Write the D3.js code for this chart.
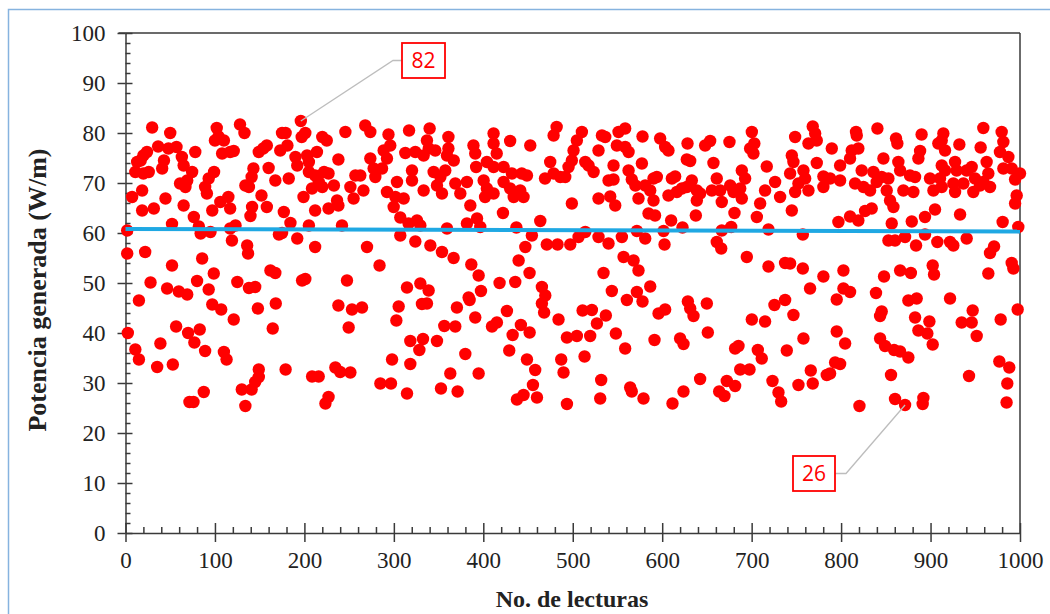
<!DOCTYPE html>
<html><head><meta charset="utf-8">
<script src="https://cdn.jsdelivr.net/npm/d3@7/dist/d3.min.js"></script>
<style>html,body{margin:0;padding:0;background:#fff;}svg{display:block;}</style>
</head><body>
<svg id="chart" width="1050" height="614"></svg>
<script>
// ---- data ----
const pointsX = [
29.8,50,102,128,133,100,104,110,196,175,179,201,197,220,225,36.5,24,20,17,48,57,63,65,78,108,117,121,149,154,158,173,181,190,192,203,205,214,238,13,11,20,26,43,41,74.5,61,67,69,99,93,89,91,143,141,134,138,160,167.5,182.5,205,212,216,208.5,220,222,227,233,7.4,18.6,44.7,65,31.7,18.6,76.4,106,115,97,117,141.5,139.7,152,158,177,184.4,199,212,227,236.5,238,52,82,84,95,123,117,205,242,1.9,1.9,22,52,85.7,98.7,119,136,137,171.5,175,192,212,162,167.5,197.4,201,28,46.5,59.6,69,80,93,125,138,145,
15,97,107,121,148,168,238,2.6,56.6,70,83,77,89,110,113,164.6,11,15,39,35.4,52.9,149,149,145,179,208.6,216,234.6,240,130,141,87.5,71.5,76,134,227,223.5,
245.8,268,273.7,294,317,340,361,411.5,430,482,478.6,288.6,296,292.3,273.7,277.4,286.8,279.3,312.8,324,337,339,346.3,333.3,361,367,359.4,389,391,392,411.5,415,404,411.5,422.7,432,443,448.8,452.5,474.8,478.6,469,486,257,262.5,251.4,255,266,320.3,320.3,333.3,344.5,352,357.5,348.2,353.8,303.5,292.3,301.7,311,299.8,368.7,374.3,381.7,385.5,400.4,404,411.5,402,422.7,430,434,441.3,445,422,463.7,307.2,316.5,325.9,329.6,307.2,324,340.8,353.8,366.8,359.4,381.7,393,396.6,437,454.3,447,439.5,451.7,471,483,270,284,386.6,394.8,418.2,435.7,247.6,314.7,329.6,338.9,383.6,397.4,465.5,469.3,
253.2,264.4,305.4,331.4,337,370.5,384.7,465.5,468,426.4,484.1,249.5,302.8,356.4,368.7,391,409.7,415.2,442,451.8,432.8,318.4,332.6,328.5,348.2,379.9,429,448.8,458,455.5,487.1,489.7,298,318.4,251.4,363.1,394.8,284.9,296.8,314.7,352.7,371.3,437.6,445,460,
510.2,504.6,500.9,499,495.3,491.6,532.6,536.3,528.8,551.2,558.6,549.3,558.6,562.4,578,597.7,603.3,607,628.3,627.5,631.3,648,653.6,657.3,675.2,700.2,698.3,703,702,517.7,523.3,514,545.6,540,545.6,577.3,562.4,566,570,581,590.3,594,586.6,590.3,584.7,592,610.8,614.5,607,616.4,622,627.5,633.1,638.7,642.4,638.7,661,655.5,664.8,666.6,676,679.7,689,692.7,687.2,689,715,709.5,705.8,716.9,726.2,731.8,528.8,499,541.9,547.5,573.5,610,622.7,637.6,680.8,677.1,666.6,718.8,514,506.5,497.2,528.8,540,554.9,571.7,581,601.5,602.6,661,666,694.6,718.8,737.4,556.8,568,573.5,534.4,543.7,571.7,586.6,
511,521.4,537,527,560.5,578,595.9,603.3,628.7,631.3,635,649.9,725.5,737.4,700.2,715,493.5,504.6,519.5,548.2,558.6,591.4,620,623.8,651,681.5,685.3,706.9,711.3,739.3,513.2,531.8,564.2,566,579.1,530.7,493.5,611.5,623.8,642.4,672.2,681.5,663.7,669.6,687.2,697.6,723.3,730,733,
768.3,771,772.8,763.5,748.6,789.6,816.7,817.5,819.3,811.9,840.6,861.4,862.9,890,888.3,886.4,914.3,912.5,908.7,916.2,932.2,959,956,979.5,981.4,977.6,987,744.9,746.7,743,752.3,748.6,759.8,763.5,757.9,772.8,780.2,780.2,787.7,798.9,798.9,810,815.6,823,825,832.4,836.1,839.8,847.3,845.4,852.9,851,854.7,858.5,856.6,864,866,877,882.7,869.6,880.8,899.4,903.2,910.6,912.5,916.2,912.5,927.4,929.2,925.5,927.4,936.7,940.4,946,949.7,947.8,962.7,964.6,959,966.5,955.3,981.4,990.7,1000,994.5,996.3,994.5,744.9,797,810,819.3,826.8,834.2,879,893.8,905,933,980.6,998.1,757.2,852.9,860.3,871.5,883.8,893.8,907.6,921.8,925.5,940.4,971,966.5,743,757.2,780.2,802.6,848,866,878,902.4,903.9,964.6,990.7,992.6,765.3,795.1,802.6,810,839,875.2,884.5,921.8,
746.7,845.4,843.6,882.7,898.7,947.1,934.8,946,978.4,997.4,757.9,795.1,804.5,843.6,849.1,859.2,865.9,875.2,886.4,896.4,902.4,951.6,793.3,798.9,766.1,784,787.7,752.3,768.3,855.8,943,976.9,988,985.8,860.3,871.5,820.5,892,891.2,985
];
const pointsY = [
81.1,80,81,81.7,80,78.5,79.3,78.5,82.4,80,80,80,79.2,79.2,78.5,77.3,76.2,75.5,74.5,76.9,77.2,75.2,73.5,76.2,75.9,76.2,76.4,76.2,76.9,77.5,76.5,77.5,75.2,73.5,75.5,74.2,76.2,74.7,74.2,72.2,71.9,72.2,74.5,72.9,72.2,69.9,69.2,70.5,72.2,70.9,69.2,67.9,72.9,71.2,69.5,69.2,73,70.5,70.9,72.2,71.5,70.2,68.9,69.2,72.2,71.9,69.5,67.2,68.5,66.9,65.5,64.9,64.5,63.2,66.2,67.2,64.5,64.9,65.2,63.4,67.5,65.2,64.2,62,67.2,64.5,64.9,66.5,65.5,61.8,61.3,59.9,60.2,61.5,60.9,61.5,61.5,60.5,55.9,56.2,53.5,54.9,51.9,58.5,57.5,55.9,59.7,60,58.9,57.2,52.5,52,50.5,50.8,50.1,48.9,48.3,47.7,50.4,48.7,50.2,49,49.2,
46.5,45.7,44.7,42.7,44.9,45.9,45.5,40,41.3,40,40.7,38.1,36.4,36.2,34.7,40.9,36.7,34.7,37.9,33.2,33.7,32.7,31.2,30.2,32.7,31.3,31.3,33.1,32.2,28.7,28.7,28.2,26.2,26.2,25.4,27.2,25.9,
80.2,81.5,80.2,79.7,80.5,80.9,79.2,79.9,78.4,81.2,79.5,76.5,77.5,74.9,74.9,72.9,72.9,71.2,76,76.2,78.5,76.9,76.5,75.5,76.9,74.5,75.5,77.5,75.9,73.2,77.9,75.9,74.2,73.2,73.2,71.9,71.9,71.5,77.5,74.2,71.9,70.9,71.2,71.5,71.5,69.2,66.9,68.5,72.5,70.5,68.5,72.2,71.2,72.5,69.5,67.9,70.2,68.2,67.2,66.9,65.2,69.9,67.9,70.2,65.5,70.5,68.9,67.9,67.2,70.2,68.9,67.2,68.5,67.2,64,62.4,63.1,61.9,62.5,61.5,59.5,58.3,57.5,56.2,55,60.9,61.9,62.9,61.2,61.1,59.5,57.2,54.5,52,57.7,57.7,57.2,53.5,53.7,51.5,50,50.2,50.5,49.1,49.9,48.5,47.1,48.4,49.2,47.5,
44.7,45.1,45.3,45.8,45.9,45.1,46.6,45.9,44.1,44.4,42.7,41.1,42.5,41.4,41.3,43.1,41.3,42.1,41.6,40.1,39.6,38.4,38.8,36.6,38.4,35.8,36.5,34.7,32.6,29.6,34.7,32.1,34.7,33.8,32.1,31.9,31.9,29.9,29.9,27.9,28.9,28.3,26.7,27.6,27.1,
80.2,78.5,76.5,74.5,73.2,71.2,79.5,79.2,76.5,80.2,80.9,77.5,77.2,76.2,79.3,78.9,77.2,76.5,77.9,74.7,74.4,77.5,78.4,74,78.2,80.2,76.9,77.9,75.9,73.5,72.2,74.2,73.5,70.5,70.7,73.9,72.5,70.7,69.5,69.5,70.9,71.2,68.5,66.5,63.9,63.5,70.9,71.3,67.5,68.2,68.9,69.2,70.5,68.5,67.9,66.5,70.9,68.5,68.5,66.2,69.5,68.2,72.5,70.9,68.9,66.9,68.5,65.9,63.2,73.3,70.2,67.2,66.9,65.9,67.3,65.5,66.9,62.5,61.1,63.5,64,61.2,60.5,60.7,60.2,59.2,57.7,59.2,57.9,59.2,60.4,58.9,60.4,57.7,58.2,56.9,55.2,53.3,54,55.2,54.5,52.5,52,48.4,48.2,49.3,
44.5,44.6,43.5,41.9,46.6,46.3,43.9,44.7,46.3,44.9,43.4,45.9,45.6,46.6,42.7,42.3,39.1,39.4,39.4,39.9,36.9,38.6,38.9,37.8,40.1,36.9,37.4,36.6,34.9,36.5,35.3,30.6,29.1,28.3,26.9,26.9,25.8,25.9,28.3,30.8,30.4,29.4,28.3,27.4,32.7,32.7,30.4,28.1,26.3,
81.3,79.9,78.5,77.9,79.2,76.9,80.2,79.5,76.9,76.5,80.9,78.9,77.9,79.7,76.4,74.9,79.9,78.5,77.9,76.5,77.7,81,77.1,80.2,78.2,76.2,75.2,75.5,74.2,71.9,69.9,68.2,70.9,68.5,72.5,74,71.3,69.2,70.9,70.5,73.5,74.9,69.9,72.5,69.2,68.5,72.2,70.2,74.9,71.2,70.9,68.5,66.5,65.2,61.9,74.2,72.5,71.5,71.2,68.5,68.2,70.9,68.5,70.9,73.5,72.5,69.2,74.2,72.5,69.9,68.2,69.9,72.5,73.2,70.9,68.2,74.2,71.9,70.2,69.2,69.5,72.9,72.9,71.9,70.7,67.5,65.9,64.5,62.2,63.3,62.5,64.4,64.9,62.3,63.2,64.7,63.7,62.2,61.2,59.7,58.5,58.5,59.2,57.5,59.7,58.2,58.2,57.5,58.9,57.3,56,53.9,52.9,51.3,52.5,51.3,52.5,52,53.5,51.7,51.9,54,52.9,48.9,46.7,48.9,48.2,48,46.5,46.9,46.9,
43.6,44.3,43.4,43.1,42.3,44.5,42.1,42.1,42.7,44.7,38.9,40.3,37.9,38.9,37.4,36.6,36.3,35.1,40.5,39.9,37.7,39.4,34.1,33.8,32.5,31.6,31.9,29.6,29.9,31.6,31.4,34.3,33.1,29.9,26.8,25.6,25.4,27,25.8,26.1
];
const trendX = [0, 1000];
const trendY = [60.8, 60.3];
const annLabels = ["82", "26"];
const annX = [196, 871.5];
const annY = [82.4, 25.6];
const xTicks = [0,100,200,300,400,500,600,700,800,900,1000];
const yTicks = [0,10,20,30,40,50,60,70,80,90,100];
const xTitle = "No. de lecturas";
const yTitle = "Potencia generada (W/m)";

// ---- drawing ----
const svg = d3.select("#chart");
const L = 125.5, R = 1020, T = 33, B = 533;
const x = d3.scaleLinear().domain([0,1000]).range([L,R]);
const y = d3.scaleLinear().domain([0,100]).range([B,T]);
const axisCol = "#3a3a3a";
const tickFont = "'Liberation Serif', 'Times New Roman', serif";
const fmt = d3.format("d");

// outer frame
svg.append("rect").attr("x",8.5).attr("y",9.5).attr("width",1100).attr("height",700)
  .attr("fill","none").attr("stroke","#86b3df").attr("stroke-width",1.5);

// plot box (top & right)
svg.append("line").attr("x1",L-7).attr("x2",R).attr("y1",T).attr("y2",T).attr("stroke",axisCol).attr("stroke-width",1.5);
svg.append("line").attr("x1",R).attr("x2",R).attr("y1",T).attr("y2",B).attr("stroke",axisCol).attr("stroke-width",1.5);

const yMinor = d3.range(0,101,2).filter(v => v % 10 !== 0);
const xMinor = d3.range(0,1001,20).filter(v => v % 100 !== 0);

function styleAxis(g){
  g.selectAll("path").attr("stroke",axisCol).attr("stroke-width",1.5);
  g.selectAll("line").attr("stroke",axisCol).attr("stroke-width",1.5);
  g.selectAll("text").attr("fill","#222").style("font-family",tickFont).style("font-size","23px");
}
// Y axis
const gy = svg.append("g").attr("transform",`translate(${L},0)`)
  .call(d3.axisLeft(y).tickValues(yTicks).tickFormat(fmt).tickSizeInner(8).tickSizeOuter(0).tickPadding(12));
styleAxis(gy);
const gyIn = svg.append("g").attr("transform",`translate(${L},0)`)
  .call(d3.axisRight(y).tickValues(yTicks).tickSize(7).tickFormat(""));
styleAxis(gyIn); gyIn.select("path").remove();
const gyMin = svg.append("g").attr("transform",`translate(${L},0)`)
  .call(d3.axisRight(y).tickValues(yMinor).tickSize(5).tickFormat(""));
styleAxis(gyMin); gyMin.select("path").remove();

// X axis
const gx = svg.append("g").attr("transform",`translate(0,${B})`)
  .call(d3.axisBottom(x).tickValues(xTicks).tickFormat(fmt).tickSizeInner(9).tickSizeOuter(0).tickPadding(10));
styleAxis(gx);
const gxIn = svg.append("g").attr("transform",`translate(0,${B})`)
  .call(d3.axisTop(x).tickValues(xTicks).tickSize(10).tickFormat(""));
styleAxis(gxIn); gxIn.select("path").remove();
const gxMin = svg.append("g").attr("transform",`translate(0,${B})`)
  .call(d3.axisTop(x).tickValues(xMinor).tickSize(6).tickFormat(""));
styleAxis(gxMin); gxMin.select("path").remove();

// points
const pts = pointsX.map((v,i) => ({x:v, y:pointsY[i]}));
svg.append("g").selectAll("circle").data(pts).join("circle")
  .attr("cx", d => x(d.x)).attr("cy", d => y(d.y)).attr("r", 6.2)
  .attr("fill", "#ff0000");

// trend line
svg.append("line")
  .attr("x1", x(trendX[0])).attr("y1", y(trendY[0]))
  .attr("x2", x(trendX[1])).attr("y2", y(trendY[1]))
  .attr("stroke", "#1fa8e3").attr("stroke-width", 4);

// annotations
const annBox = [
  {bx: 402, by: 43, w: 43, h: 35, elbowX: 393, side: "left"},
  {bx: 793, by: 456, w: 42, h: 35, elbowX: 846, side: "right"}
];
annLabels.forEach((lab,i) => {
  const b = annBox[i];
  const px = x(annX[i]), py = y(annY[i]);
  const my = b.by + b.h/2;
  const edgeX = b.side === "left" ? b.bx : b.bx + b.w;
  svg.append("polyline")
    .attr("points", `${px},${py} ${b.elbowX},${my} ${edgeX},${my}`)
    .attr("fill","none").attr("stroke","#bdbdbd").attr("stroke-width",1.3);
  svg.append("rect").attr("x",b.bx).attr("y",b.by).attr("width",b.w).attr("height",b.h)
    .attr("fill","#fff").attr("stroke","#ff0000").attr("stroke-width",1.8);
  svg.append("text").attr("x",b.bx+b.w/2).attr("y",my).attr("dy","0.36em")
    .attr("text-anchor","middle").attr("fill","#ff0000")
    .style("font-family","'Open Sans','Noto Sans',sans-serif").style("font-size","21px")
    .text(lab);
});

// titles
svg.append("text").attr("x",572).attr("y",607).attr("text-anchor","middle")
  .style("font-family",tickFont).style("font-weight","bold").style("font-size","24px").attr("fill","#222")
  .text(xTitle);
svg.append("text").attr("transform","translate(46,290) rotate(-90)").attr("text-anchor","middle")
  .style("font-family",tickFont).style("font-weight","bold").style("font-size","26px").attr("fill","#222")
  .text(yTitle);
</script>
</body></html>
